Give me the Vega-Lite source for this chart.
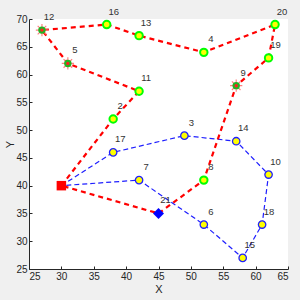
{
  "$schema": "https://vega.github.io/schema/vega-lite/v6.json",
  "width": 259,
  "height": 250,
  "autosize": {"type": "none"},
  "padding": {"left": 29, "top": 19, "right": 12, "bottom": 31},
  "background": "#f0f0f0",
  "config": {
    "view": {"fill": "white", "stroke": null},
    "font": "Liberation Sans",
    "axis": {"grid": false, "domainColor": "#262626", "tickColor": "#262626", "labelColor": "#262626", "titleColor": "#262626", "labelFontSize": 10, "titleFontSize": 11, "titleFontWeight": "normal", "tickSize": -3, "labelPadding": 5}
  },
  "datasets": {
    "nodes": [
      {"id": "1", "x": 30, "y": 40, "kind": "depot"},
      {"id": "2", "x": 38, "y": 52, "kind": "green"},
      {"id": "3", "x": 49, "y": 49, "kind": "blue"},
      {"id": "4", "x": 52, "y": 64, "kind": "green"},
      {"id": "5", "x": 31, "y": 62, "kind": "star"},
      {"id": "6", "x": 52, "y": 33, "kind": "blue"},
      {"id": "7", "x": 42, "y": 41, "kind": "blue"},
      {"id": "8", "x": 52, "y": 41, "kind": "green"},
      {"id": "9", "x": 57, "y": 58, "kind": "star"},
      {"id": "10", "x": 62, "y": 42, "kind": "blue"},
      {"id": "11", "x": 42, "y": 57, "kind": "green"},
      {"id": "12", "x": 27, "y": 68, "kind": "star"},
      {"id": "13", "x": 42, "y": 67, "kind": "green"},
      {"id": "14", "x": 57, "y": 48, "kind": "blue"},
      {"id": "15", "x": 58, "y": 27, "kind": "blue"},
      {"id": "16", "x": 37, "y": 69, "kind": "green"},
      {"id": "17", "x": 38, "y": 46, "kind": "blue"},
      {"id": "18", "x": 61, "y": 33, "kind": "blue"},
      {"id": "19", "x": 62, "y": 63, "kind": "green"},
      {"id": "20", "x": 63, "y": 69, "kind": "green"},
      {"id": "21", "x": 45, "y": 35, "kind": "diamond"}
    ],
    "routes": [
      {"route": "red", "seq": 0, "x": 30, "y": 40},
      {"route": "red", "seq": 1, "x": 38, "y": 52},
      {"route": "red", "seq": 2, "x": 42, "y": 57},
      {"route": "red", "seq": 3, "x": 31, "y": 62},
      {"route": "red", "seq": 4, "x": 27, "y": 68},
      {"route": "red", "seq": 5, "x": 37, "y": 69},
      {"route": "red", "seq": 6, "x": 42, "y": 67},
      {"route": "red", "seq": 7, "x": 52, "y": 64},
      {"route": "red", "seq": 8, "x": 63, "y": 69},
      {"route": "red", "seq": 9, "x": 62, "y": 63},
      {"route": "red", "seq": 10, "x": 57, "y": 58},
      {"route": "red", "seq": 11, "x": 52, "y": 41},
      {"route": "red", "seq": 12, "x": 45, "y": 35},
      {"route": "red", "seq": 13, "x": 30, "y": 40},
      {"route": "blue", "seq": 0, "x": 30, "y": 40},
      {"route": "blue", "seq": 1, "x": 38, "y": 46},
      {"route": "blue", "seq": 2, "x": 49, "y": 49},
      {"route": "blue", "seq": 3, "x": 57, "y": 48},
      {"route": "blue", "seq": 4, "x": 62, "y": 42},
      {"route": "blue", "seq": 5, "x": 61, "y": 33},
      {"route": "blue", "seq": 6, "x": 58, "y": 27},
      {"route": "blue", "seq": 7, "x": 52, "y": 33},
      {"route": "blue", "seq": 8, "x": 42, "y": 41},
      {"route": "blue", "seq": 9, "x": 30, "y": 40}
    ]
  },
  "encoding": {
    "x": {"field": "x", "type": "quantitative", "title": "X", "scale": {"domain": [25, 65], "nice": false, "zero": false}, "axis": {"values": [25, 30, 35, 40, 45, 50, 55, 60, 65], "titlePadding": 2}},
    "y": {"field": "y", "type": "quantitative", "title": "Y", "scale": {"domain": [25, 70], "nice": false, "zero": false}, "axis": {"values": [25, 30, 35, 40, 45, 50, 55, 60, 65, 70], "titlePadding": 0}}
  },
  "layer": [
    {
      "data": {"name": "routes"},
      "transform": [{"filter": "datum.route == 'blue'"}],
      "mark": {"type": "line", "color": "#1f1fff", "strokeWidth": 1.2, "strokeDash": [5, 3]},
      "encoding": {"order": {"field": "seq", "type": "quantitative"}}
    },
    {
      "data": {"name": "routes"},
      "transform": [{"filter": "datum.route == 'red'"}],
      "mark": {"type": "line", "color": "#ff0000", "strokeWidth": 2.2, "strokeDash": [5, 4]},
      "encoding": {"order": {"field": "seq", "type": "quantitative"}}
    },
    {
      "data": {"name": "nodes"},
      "transform": [{"filter": "datum.kind == 'green'"}],
      "mark": {"type": "point", "shape": "circle", "filled": true, "fill": "#ffff00", "stroke": "#00ff00", "strokeWidth": 2, "size": 55, "opacity": 1}
    },
    {
      "data": {"name": "nodes"},
      "transform": [{"filter": "datum.kind == 'blue'"}],
      "mark": {"type": "point", "shape": "circle", "filled": true, "fill": "#ffff00", "stroke": "#1f1fff", "strokeWidth": 1.3, "size": 55, "opacity": 1}
    },
    {
      "data": {"name": "nodes"},
      "transform": [{"filter": "datum.kind == 'star'"}],
      "mark": {"type": "point", "shape": "M-1,0L1,0M0,-1L0,1M-0.7,-0.7L0.7,0.7M-0.7,0.7L0.7,-0.7", "filled": false, "stroke": "#ff8080", "strokeWidth": 1.2, "size": 150, "opacity": 1}
    },
    {
      "data": {"name": "nodes"},
      "transform": [{"filter": "datum.kind == 'star'"}],
      "mark": {"type": "point", "shape": "circle", "filled": true, "fill": "#22b422", "size": 55, "opacity": 1}
    },
    {
      "data": {"name": "nodes"},
      "transform": [{"filter": "datum.kind == 'star'"}],
      "mark": {"type": "point", "shape": "circle", "filled": true, "fill": "#ff2020", "size": 12, "opacity": 1}
    },
    {
      "data": {"name": "nodes"},
      "transform": [{"filter": "datum.kind == 'depot'"}],
      "mark": {"type": "point", "shape": "square", "filled": true, "fill": "#ff0000", "size": 90, "opacity": 1}
    },
    {
      "data": {"name": "nodes"},
      "transform": [{"filter": "datum.kind == 'diamond'"}],
      "mark": {"type": "point", "shape": "diamond", "filled": true, "fill": "#0000ff", "size": 120, "opacity": 1}
    },
    {
      "data": {"name": "nodes"},
      "transform": [{"filter": "datum.kind != 'depot'"}],
      "mark": {"type": "text", "dx": 7, "dy": -13, "fontSize": 9.5, "color": "#333333"},
      "encoding": {"text": {"field": "id", "type": "nominal"}}
    }
  ]
}
